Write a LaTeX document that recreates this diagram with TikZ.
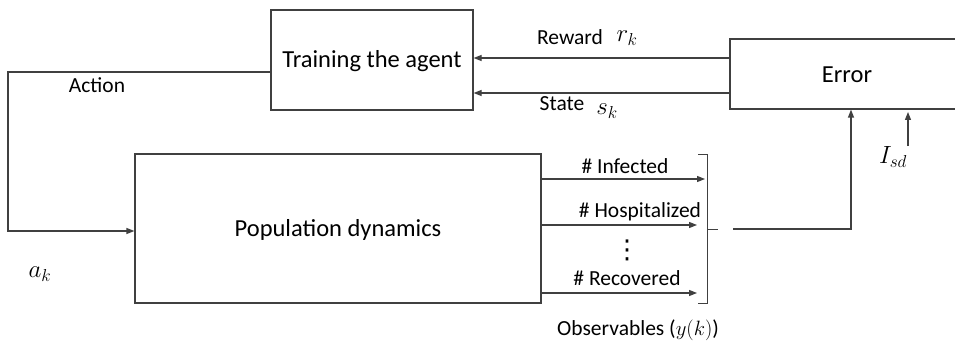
\documentclass[tikz,border=0pt]{standalone}
\usepackage{fontspec}
\setmainfont{Carlito}
\newfontfamily\symfont{DejaVu Sans}
\usetikzlibrary{arrows.meta}
\begin{document}
\begin{tikzpicture}[x=1pt,y=-1pt,
  ln/.style={draw=black!75, line width=1.2pt},
  arr/.style={ln, -{Triangle[length=8pt,width=6pt]}},
  box/.style={ln, rectangle, inner sep=0pt},
  btxt/.style={inner sep=0pt, font=\fontsize{24.5}{28}\selectfont},
  lbl/.style={inner sep=0pt, font=\fontsize{21.5}{25}\selectfont},
  mth/.style={inner sep=0pt, font=\fontsize{25.5}{30}\selectfont}]
\useasboundingbox (0,0) rectangle (955,350);
\clip (0,0) rectangle (955,350);
\fill[white] (0,0) rectangle (955,350);
% boxes
\node[box, minimum width=202pt, minimum height=100pt] (train) at (372,60) {};
\node[btxt] (traint) at (372,61) {Training the agent};
\node[box, minimum width=406pt, minimum height=149pt] (pop) at (338,228.5) {};
\node[btxt] (popt) at (338,230) {Population dynamics};
\node[box, minimum width=234pt, minimum height=70pt] (err) at (847,74) {};
\node[btxt] (errt) at (847,75) {Error};
% action loop
\coordinate (a1) at (8,72);
\coordinate (a2) at (8,231);
\draw[arr] (train.west |- a1) -- (a1) -- (a2) -- (pop.west |- a2);
\node[lbl] (action) at (97,85) {Action};
\node[mth] (ak) at (40,274) {$a_k$};
% reward / state
\coordinate (rw) at (0,58);
\coordinate (st) at (0,93);
\draw[arr] (err.west |- rw) -- (train.east |- rw);
\draw[arr] (err.west |- st) -- (train.east |- st);
\node[lbl] (reward) at (570,37) {Reward};
\node[mth] (rk) at (627,38) {$r_k$};
\node[lbl] (state) at (562,104) {State};
\node[mth] (sk) at (607,111) {$s_k$};
% observables
\coordinate (e1) at (705,179);
\coordinate (e2) at (697,225);
\coordinate (e3) at (697,293);
\draw[arr] (pop.east |- e1) -- (e1);
\draw[arr] (pop.east |- e2) -- (e2);
\draw[arr] (pop.east |- e3) -- (e3);
\node[lbl] (inf) at (625,166) {\# Infected};
\node[lbl] (hosp) at (640,212) {\# Hospitalized};
\node[inner sep=0pt, font=\symfont\fontsize{26}{26}\selectfont, text height=24pt, text depth=0pt] (dots) at (627,246) {⋮};
\node[lbl] (rec) at (627,278) {\# Recovered};
% bracket
\draw[ln, line width=1pt] (698,154) -- (707,154) -- (707,303) -- (698,303);
\draw[ln, line width=1pt] (707,229) -- (718,229);
\coordinate (b1) at (733,229);
\coordinate (b2) at (851,229);
\draw[arr] (b1) -- (b2) -- (b2 |- err.south);
\node[lbl] (obs) at (638,330) {Observables ($y(k)$)};
% Isd
\coordinate (i1) at (908,146);
\coordinate (i2) at (908,112);
\draw[arr] (i1) -- (i2);
\node[mth] (isd) at (893,157) {$I_{sd}$};
\end{tikzpicture}
\end{document}
